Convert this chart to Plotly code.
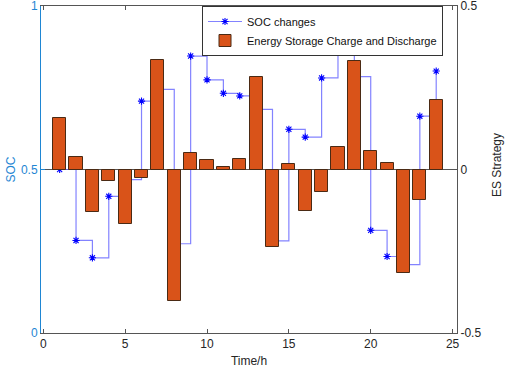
import plotly.graph_objects as go

hours = list(range(1, 25))
soc = [0.500, 0.283, 0.230, 0.418, 0.469, 0.709, 0.745, 0.273, 0.847, 0.774, 0.733, 0.725,
       0.684, 0.282, 0.623, 0.599, 0.780, 0.879, 0.784, 0.314, 0.234, 0.209, 0.663, 0.801]
es = [0.156, 0.039, -0.130, -0.034, -0.167, -0.025, 0.334, -0.403, 0.051, 0.030, 0.008, 0.031,
      0.284, -0.238, 0.017, -0.126, -0.068, 0.069, 0.331, 0.057, 0.019, -0.318, -0.094, 0.212]
x_ticks = [0, 5, 10, 15, 20, 25]
soc_ticks = [0, 0.5, 1]
soc_tick_text = ["0", "0.5", "1"]
es_ticks = [-0.5, 0, 0.5]
es_tick_text = ["-0.5", "0", "0.5"]

FONT = "Liberation Sans, Arial, sans-serif"
BLUE_AX = "#1f86d3"
GRAY = "#262626"
W, H = 505, 370
L, R, T, B = 41, 48, 6, 37
PW = W - L - R
PH = H - T - B

fig = go.Figure()
fig.add_trace(go.Scatter(
    x=hours, y=soc, mode="lines+markers", name="SOC changes",
    line=dict(shape="hv", color="rgba(100,100,255,0.8)", width=1.2),
    marker=dict(symbol="asterisk-open", size=6, color="#0000ff", line=dict(width=1.1, color="#0000ff")),
    yaxis="y",
))
fig.add_trace(go.Bar(
    x=hours, y=es, name="Energy Storage Charge and Discharge", width=0.8,
    marker=dict(color="#D95319", line=dict(color="#4a2a14", width=1)),
    yaxis="y2",
))

fig.update_layout(
    width=W, height=H,
    margin=dict(l=L, r=R, t=T, b=B),
    paper_bgcolor="white", plot_bgcolor="white",
    font=dict(family=FONT, size=12, color=GRAY),
    showlegend=True,
    legend=dict(x=(443 - L) / PW, xanchor="right", y=1, yanchor="top",
                bordercolor="#333333", borderwidth=1, bgcolor="white",
                font=dict(size=11, color="#111111"),
                tracegroupgap=0, itemwidth=34),
    xaxis=dict(range=[-0.14, 25.27], tickvals=x_ticks, ticks="inside", ticklen=4,
               showline=True, linecolor="#555555", linewidth=1, mirror="ticks",
               tickcolor="#555555", showgrid=False, zeroline=False, automargin=False,
               title=dict(text="Time/h", standoff=6, font=dict(size=12)),
               tickfont=dict(size=12, color=GRAY), ticklabeloverflow="allow"),
    yaxis=dict(range=[0, 1], tickvals=soc_ticks, ticktext=soc_tick_text, ticks="inside", ticklen=4,
               showline=True, linecolor=BLUE_AX, linewidth=1, tickcolor=BLUE_AX,
               showgrid=False, zeroline=False, automargin=False,
               tickfont=dict(size=12, color=BLUE_AX), ticklabeloverflow="allow"),
    yaxis2=dict(range=[-0.5, 0.5], tickvals=es_ticks, ticktext=es_tick_text, overlaying="y", side="right",
                ticks="inside", ticklen=4, showline=True, linecolor="#555555", linewidth=1,
                tickcolor="#555555", showgrid=False, zeroline=True, zerolinecolor="#555555", zerolinewidth=1,
                automargin=False, tickfont=dict(size=12, color=GRAY), ticklabeloverflow="allow"),
    bargap=0,
    annotations=[
        dict(text="SOC", textangle=-90, xref="paper", yref="paper",
             x=(10 - L) / PW, y=0.5, xanchor="center", yanchor="middle", showarrow=False,
             font=dict(size=12, color=BLUE_AX)),
        dict(text="ES Strategy", textangle=-90, xref="paper", yref="paper",
             x=(497 - L) / PW, y=1 - (165 - T) / PH, xanchor="center", yanchor="middle", showarrow=False,
             font=dict(size=12, color=GRAY)),
    ],
)

fig.write_html("out.html", config={"displayModeBar": False},
               post_script="document.body.style.margin='0';")
